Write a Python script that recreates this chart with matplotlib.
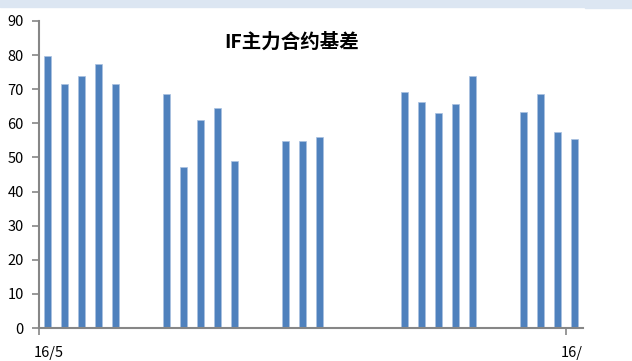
import datetime

import matplotlib
matplotlib.use("Agg")
import matplotlib.dates as mdates
from matplotlib import pyplot as plt
import matplotlib.patches as patches

plt.rcParams['font.family'] = ['Noto Sans CJK SC', 'DejaVu Sans']

# trading days, late May to late June 2016 (Dragon Boat holiday Jun 9-10)
days = ["2016-05-23", "2016-05-24", "2016-05-25", "2016-05-26", "2016-05-27",
        "2016-05-30", "2016-05-31", "2016-06-01", "2016-06-02", "2016-06-03",
        "2016-06-06", "2016-06-07", "2016-06-08",
        "2016-06-13", "2016-06-14", "2016-06-15", "2016-06-16", "2016-06-17",
        "2016-06-20", "2016-06-21", "2016-06-22", "2016-06-23"]
basis = [79.8, 71.5, 74.0, 77.4, 71.5,
         68.6, 47.2, 61.1, 64.6, 48.9,
         54.7, 54.7, 55.9,
         69.3, 66.4, 62.9, 65.8, 74.0,
         63.4, 68.7, 57.6, 55.3]
tick_labels = ["16/5", "16/"]

dates = [datetime.datetime.strptime(d, "%Y-%m-%d") for d in days]
x = mdates.date2num(dates)

fig = plt.figure(figsize=(6.32, 3.61), dpi=100)
fig.patch.set_facecolor("white")

# pale strip along the top edge
fig.patches.append(patches.Rectangle((0, 1 - 7 / 361), 585 / 632, 7 / 361,
                                     transform=fig.transFigure, color="#dce6f2", zorder=0))
fig.patches.append(patches.Rectangle((585 / 632, 1 - 8 / 361), 47 / 632, 8 / 361,
                                     transform=fig.transFigure, color="#dce6f2", zorder=0))

ax = fig.add_axes([39 / 632, 1 - 328 / 361, 544 / 632, 307 / 361])
ax.bar(x, basis, width=0.42, color="#4f81bd", edgecolor="#a9c1e0", linewidth=0.5, zorder=2)

ax.set_xlim(x[0] - 0.5, x[-1] + 0.5)
ax.set_ylim(0, 90)
ax.set_yticks(range(0, 91, 10))
ax.set_xticks([x[0] - 0.5, x[-1] - 0.5])
ax.set_xticklabels([])

for s in ["top", "right"]:
    ax.spines[s].set_visible(False)
for s in ["left", "bottom"]:
    ax.spines[s].set_color("#868686")
    ax.spines[s].set_linewidth(1.5)
ax.tick_params(axis="both", colors="#868686", length=5, width=1.2, direction="out")
ax.tick_params(axis="y", labelcolor="black", labelsize=10.5, pad=6)

for pos, lab in zip([x[0] - 0.5, x[-1] - 0.5], tick_labels):
    ax.annotate(lab, xy=(pos, 0), xycoords=("data", "axes fraction"),
                xytext=(-5, -25), textcoords="offset pixels",
                ha="left", va="center", fontsize=10.5, color="black",
                annotation_clip=False)

fig.text(292 / 632, 1 - 42 / 361, "IF主力合约基差", ha="center", va="center",
         fontsize=14, fontweight="bold")

plt.savefig("out.png", dpi=100, facecolor="white")
